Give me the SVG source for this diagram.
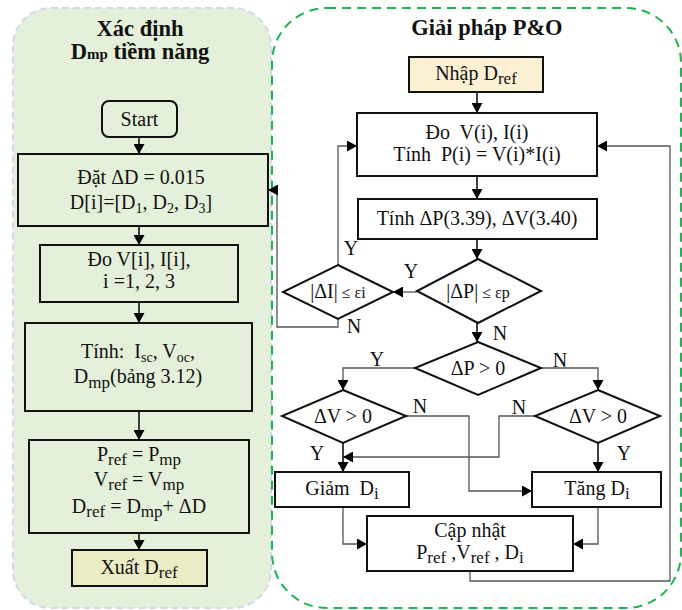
<svg xmlns="http://www.w3.org/2000/svg" width="682" height="610" viewBox="0 0 682 610">
<style>
text{font-family:"Liberation Serif","Times New Roman",serif;font-size:20px;fill:#111;text-anchor:middle}
.t{font-weight:bold;font-size:22.5px}
.sb{font-size:17px}
.sm{font-size:14px}
.lb{font-size:20px}
.box{stroke:#111;stroke-width:2;fill:none}
.wb{stroke:#111;stroke-width:2;fill:#fff}
.main{stroke:#111;stroke-width:1.6;fill:none}
.rt{stroke:#555;stroke-width:1.3;fill:none}
</style>
<defs>
<marker id="ah" markerUnits="userSpaceOnUse" markerWidth="11" markerHeight="11" refX="10" refY="5.5" orient="auto">
<path d="M0,0 L10,5.5 L0,11 z" fill="#000"/>
</marker>
</defs>
<g id="panel-left">
<rect x="13" y="8" width="258" height="600" rx="38" fill="#e4f0d9" stroke="#d3d9e8" stroke-width="2" stroke-dasharray="7,4"/>
<text class="t" x="140" y="36">Xác định</text>
<text class="t" x="140" y="59">D<tspan font-size="15">mp</tspan> tiềm năng</text>
</g>
<g id="panel-right">
<rect x="272" y="8" width="409" height="600" rx="55" fill="none" stroke="#1fb44f" stroke-width="2" stroke-dasharray="9,6"/>
<text class="t" x="487" y="35">Giải pháp P&amp;O</text>
</g>
<g id="connectors">
<line class="main" x1="139" y1="137" x2="139" y2="154" marker-end="url(#ah)"/>
<line class="main" x1="139" y1="226" x2="139" y2="245" marker-end="url(#ah)"/>
<line class="main" x1="139" y1="302" x2="139" y2="323" marker-end="url(#ah)"/>
<line class="main" x1="139" y1="411" x2="139" y2="440" marker-end="url(#ah)"/>
<line class="main" x1="139" y1="533" x2="139" y2="550" marker-end="url(#ah)"/>
<line class="main" x1="477" y1="92" x2="477" y2="113" marker-end="url(#ah)"/>
<line class="main" x1="477" y1="176" x2="477" y2="199" marker-end="url(#ah)"/>
<line class="main" x1="477" y1="239" x2="477" y2="259" marker-end="url(#ah)"/>
<line class="rt" x1="417" y1="292" x2="393" y2="292" marker-end="url(#ah)"/>
<polyline class="rt" points="338,265 338,146 357,146" marker-end="url(#ah)"/>
<polyline class="rt" points="338,319 338,327 277,327 277,190 268,190" marker-end="url(#ah)"/>
<line class="main" x1="477" y1="323" x2="477" y2="342" marker-end="url(#ah)"/>
<polyline class="rt" points="415,368 343,368 343,390" marker-end="url(#ah)"/>
<polyline class="rt" points="541,368 598,368 598,390" marker-end="url(#ah)"/>
<polyline class="rt" points="406,416 469,416 469,491 532,491" marker-end="url(#ah)"/>
<polyline class="rt" points="535,416 499,416 499,457 343,457" marker-end="url(#ah)"/>
<line class="main" x1="343" y1="443" x2="343" y2="472" marker-end="url(#ah)"/>
<line class="main" x1="598" y1="443" x2="598" y2="472" marker-end="url(#ah)"/>
<polyline class="rt" points="343,507 343,544 367,544" marker-end="url(#ah)"/>
<polyline class="rt" points="598,507 598,544 573,544" marker-end="url(#ah)"/>
<polyline class="rt" points="470,571 470,581 670,581 670,146 597,146" marker-end="url(#ah)"/>
<text class="lb" x="351" y="255">Y</text>
<text class="lb" x="411" y="278">Y</text>
<text class="lb" x="354" y="333">N</text>
<text class="lb" x="500" y="340">N</text>
<text class="lb" x="377" y="366">Y</text>
<text class="lb" x="560" y="367">N</text>
<text class="lb" x="420" y="413">N</text>
<text class="lb" x="519" y="414">N</text>
<text class="lb" x="317" y="460">Y</text>
<text class="lb" x="624" y="460">Y</text>
</g>
<g id="start">
<rect class="box" x="102" y="101" width="75" height="36" rx="7"/>
<text x="139.5" y="126">Start</text>
</g>
<g id="dat">
<rect class="box" x="18" y="154" width="250" height="72"/>
<text x="141" y="184">Đặt ΔD = 0.015</text>
<text x="141" y="209">D[i]=[D<tspan class="sm" dy="4">1</tspan><tspan dy="-4">, D</tspan><tspan class="sm" dy="4">2</tspan><tspan dy="-4">, D</tspan><tspan class="sm" dy="4">3</tspan><tspan dy="-4">]</tspan></text>
</g>
<g id="do-vi">
<rect class="box" x="40" y="245" width="198" height="57"/>
<text x="139" y="266">Đo V[i], I[i],</text>
<text x="139" y="288" font-size="17">i =1, 2, 3</text>
</g>
<g id="tinh-isc">
<rect class="box" x="25" y="323" width="227" height="88"/>
<text x="138" y="358">Tính:&#160; I<tspan class="sm" dy="4">sc</tspan><tspan dy="-4">, V</tspan><tspan class="sm" dy="4">oc</tspan><tspan dy="-4">,</tspan></text>
<text x="138" y="383">D<tspan class="sb" dy="5">mp</tspan><tspan dy="-5">(bảng 3.12)</tspan></text>
</g>
<g id="pref">
<rect class="box" x="29" y="440" width="220" height="93"/>
<text x="139" y="461">P<tspan class="sb" dy="4">ref</tspan><tspan dy="-4"> = P</tspan><tspan class="sb" dy="4">mp</tspan></text>
<text x="139" y="486">V<tspan class="sb" dy="4">ref</tspan><tspan dy="-4"> = V</tspan><tspan class="sb" dy="4">mp</tspan></text>
<text x="139" y="513">D<tspan class="sb" dy="4">ref</tspan><tspan dy="-4"> = D</tspan><tspan class="sb" dy="4">mp</tspan><tspan dy="-4">+ ΔD</tspan></text>
</g>
<g id="xuat">
<rect class="box" x="72" y="550" width="135" height="36" style="fill:#ebebc4"/>
<text x="139" y="574">Xuất D<tspan class="sb" dy="4">ref</tspan></text>
</g>
<g id="nhap">
<rect class="box" x="409" y="57" width="134" height="35" style="fill:#fcf1d4"/>
<text x="476" y="80">Nhập D<tspan class="sb" dy="4">ref</tspan></text>
</g>
<g id="do-pi">
<rect class="wb" x="357" y="113" width="240" height="63"/>
<text x="477" y="139">Đo&#160; V(i), I(i)</text>
<text x="477" y="161">Tính&#160; P(i) = V(i)*I(i)</text>
</g>
<g id="tinh-dp">
<rect class="wb" x="358" y="199" width="239" height="40"/>
<text x="477" y="225">Tính ΔP(3.39), ΔV(3.40)</text>
</g>
<g id="dec-dp">
<polygon class="wb" points="478,259 541,291 478,323 417,291"/>
<text x="478" y="298">|ΔP|<tspan font-size="16"> ≤ εp</tspan></text>
</g>
<g id="dec-di">
<polygon class="wb" points="338,265 393,292 338,319 283,292"/>
<text x="338" y="298">|ΔI|<tspan font-size="16"> ≤ εi</tspan></text>
</g>
<g id="dec-dp0">
<polygon class="wb" points="478,342 541,368 478,395 415,368"/>
<text x="478" y="375">ΔP &gt; 0</text>
</g>
<g id="dec-dv-left">
<polygon class="wb" points="343,390 406,416 343,443 282,416"/>
<text x="343" y="423">ΔV &gt; 0</text>
</g>
<g id="dec-dv-right">
<polygon class="wb" points="598,390 660,416 598,443 535,416"/>
<text x="598" y="423">ΔV &gt; 0</text>
</g>
<g id="giam">
<rect class="wb" x="275" y="472" width="134" height="35"/>
<text x="342" y="495">Giảm&#160; D<tspan class="sb" dy="4">i</tspan></text>
</g>
<g id="tang">
<rect class="wb" x="532" y="472" width="129" height="35"/>
<text x="597" y="495">Tăng D<tspan class="sb" dy="4">i</tspan></text>
</g>
<g id="capnhat">
<rect class="wb" x="367" y="516" width="206" height="55"/>
<text x="470" y="537">Cập nhật</text>
<text x="470" y="559">P<tspan class="sb" dy="4">ref</tspan><tspan dy="-4"> ,V</tspan><tspan class="sb" dy="4">ref</tspan><tspan dy="-4"> , D</tspan><tspan class="sb" dy="4">i</tspan></text>
</g>
</svg>
